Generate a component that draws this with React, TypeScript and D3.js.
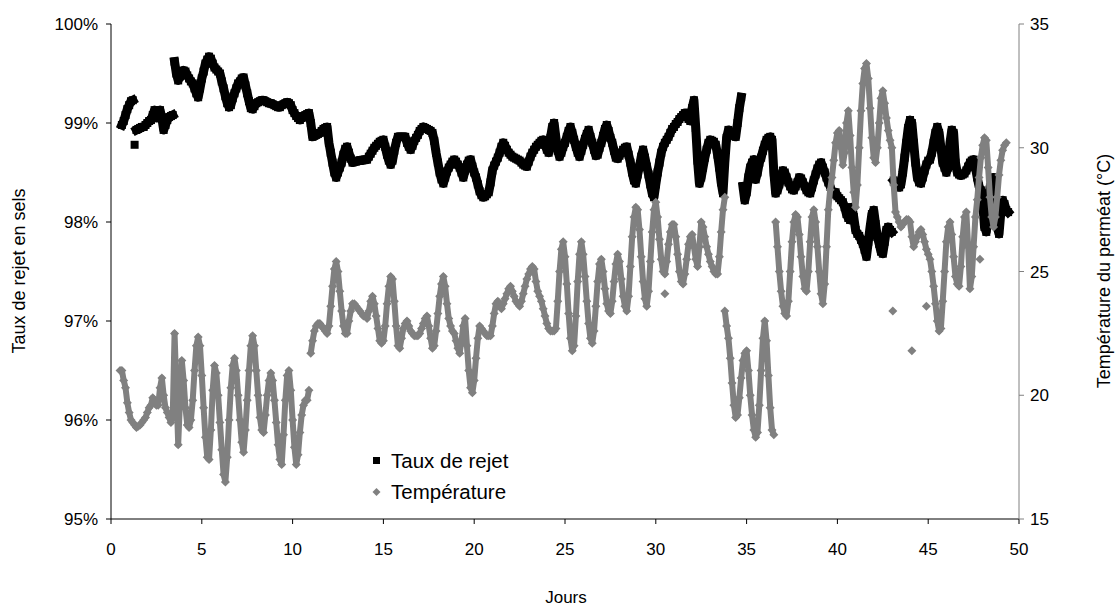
import React from 'react';
import * as d3 from 'd3';

// ---- axes / tick labels ----
const xTicks = [0, 5, 10, 15, 20, 25, 30, 35, 40, 45, 50];
const leftTicks = [95, 96, 97, 98, 99, 100];
const rightTicks = [15, 20, 25, 30, 35];

// sampling interval of the logged data (days)
const STEP = 0.1;

// ---- Taux de rejet (%) segments ----
const rejet1Start = 0.6;
const rejet1 = [98.98, 99.02, 99.08, 99.14, 99.18, 99.22, 99.23];
const rejetIsoDays = [1.3];
const rejetIsoVals = [98.78];
const rejet2Start = 1.4;
const rejet2 = [98.93, 98.94, 98.95, 98.96, 98.96, 98.98, 99.0, 99.02, 99.03, 99.08, 99.13, 99.05, 99.1, 99.13, 99.05, 98.93, 98.98, 99.03, 99.06, 99.07, 99.08];
const rejet3Start = 3.5;
const rejet3 = [
  99.62, 99.5, 99.43, 99.47, 99.5,
  99.53, 99.52, 99.48, 99.45, 99.42, 99.4, 99.35, 99.3, 99.26, 99.35,
  99.45, 99.52, 99.6, 99.64, 99.67, 99.65, 99.6, 99.56, 99.54, 99.52,
  99.5, 99.42, 99.35, 99.27, 99.2, 99.16, 99.18, 99.25, 99.3, 99.35,
  99.4, 99.42, 99.45, 99.46, 99.38, 99.3, 99.22, 99.15, 99.14, 99.17,
  99.2, 99.21, 99.22, 99.23, 99.23, 99.22, 99.21, 99.2, 99.2, 99.19,
  99.18, 99.17, 99.16, 99.16, 99.18, 99.19, 99.2, 99.21, 99.2, 99.18,
  99.13, 99.1, 99.07, 99.05, 99.03, 99.05, 99.07, 99.08, 99.09, 99.1,
  99.0, 98.86, 98.87, 98.88, 98.89, 98.9, 98.92, 98.94, 98.95, 98.96,
  98.8, 98.7, 98.6, 98.5, 98.45, 98.5, 98.55, 98.6, 98.68, 98.74,
  98.76, 98.7, 98.64, 98.6, 98.61, 98.61, 98.62, 98.62, 98.62, 98.63,
  98.63, 98.63, 98.66, 98.69, 98.72, 98.75, 98.77, 98.79, 98.81, 98.82,
  98.83, 98.76, 98.68, 98.62, 98.58, 98.62, 98.72, 98.8, 98.86, 98.86,
  98.86, 98.86, 98.86, 98.8, 98.76, 98.73, 98.77, 98.82, 98.85, 98.88,
  98.92, 98.94, 98.96, 98.95, 98.94, 98.93, 98.92, 98.9, 98.82, 98.7,
  98.6, 98.5, 98.43, 98.39, 98.45, 98.51, 98.55, 98.58, 98.61, 98.63,
  98.61, 98.58, 98.55, 98.5, 98.45, 98.52, 98.58, 98.62, 98.63, 98.56,
  98.5, 98.45, 98.38, 98.31, 98.27, 98.25, 98.26, 98.28, 98.3, 98.4,
  98.52, 98.57, 98.61, 98.65, 98.7, 98.76, 98.8, 98.77, 98.73, 98.7,
  98.68, 98.66, 98.65, 98.64, 98.63, 98.62, 98.6, 98.58, 98.57, 98.56,
  98.61, 98.66, 98.7, 98.73, 98.76, 98.78, 98.8, 98.82, 98.83, 98.78,
  98.73, 98.7, 98.85, 98.96, 99.0, 98.85, 98.72, 98.66, 98.7, 98.76,
  98.8, 98.86, 98.92, 98.96, 98.9, 98.83, 98.76, 98.7, 98.66, 98.72,
  98.78, 98.84, 98.89, 98.93, 98.86, 98.8, 98.73, 98.67, 98.68, 98.75,
  98.8, 98.87, 98.94, 98.98, 98.92, 98.85, 98.8, 98.72, 98.65, 98.64,
  98.67, 98.7, 98.73, 98.75, 98.76, 98.68, 98.6, 98.5, 98.42, 98.39,
  98.48, 98.56, 98.66, 98.73, 98.65, 98.56, 98.48, 98.38, 98.29, 98.25,
  98.38, 98.5, 98.6, 98.7, 98.76, 98.8, 98.83, 98.86, 98.9, 98.94,
  98.96, 98.99, 99.01, 99.04, 99.06, 99.08, 99.1, 99.1, 99.04, 99.02,
  99.15, 99.23, 98.95, 98.62, 98.39, 98.45, 98.55, 98.65, 98.73, 98.8,
  98.83, 98.82, 98.81, 98.78, 98.68, 98.55, 98.4, 98.29, 98.6, 98.85,
  98.93, 98.91, 98.89, 98.87, 98.86, 99.0, 99.15, 99.26,
];
const rejet4Start = 34.8;
const rejet4 = [
  98.36, 98.22,
  98.3, 98.45, 98.55, 98.6, 98.63, 98.43, 98.5, 98.6, 98.65, 98.72,
  98.78, 98.83, 98.85, 98.86, 98.83, 98.5, 98.29, 98.32, 98.38, 98.45,
  98.52, 98.5, 98.45, 98.4, 98.36, 98.33, 98.32, 98.36, 98.4, 98.45,
  98.44, 98.4, 98.36, 98.32, 98.3, 98.29, 98.35, 98.42, 98.48, 98.54,
  98.58, 98.6, 98.55, 98.5, 98.45, 98.4, 98.36, 98.3, 98.28, 98.3,
  98.26, 98.24, 98.22, 98.2, 98.15, 98.08, 98.04, 98.02, 98.15, 98.05,
  97.92, 97.88, 97.86, 97.82, 97.78, 97.72, 97.65, 97.8, 97.95, 98.08,
  98.12, 97.98, 97.85, 97.78, 97.7, 97.68, 97.8, 97.92, 97.95, 97.92,
  97.9,
];
const rejet5Start = 43.1;
const rejet5 = [
  98.42, 98.4, 98.37, 98.35, 98.38, 98.5, 98.65, 98.8, 98.95,
  99.03, 99.0, 98.8, 98.6, 98.45, 98.4, 98.39, 98.45, 98.52, 98.58,
  98.62, 98.63, 98.7, 98.8, 98.9, 98.96, 98.9, 98.75, 98.6, 98.55,
  98.5, 98.55, 98.8, 98.93, 98.9, 98.6, 98.5, 98.48, 98.47, 98.48,
  98.49, 98.52, 98.56, 98.6, 98.62, 98.63, 98.55, 98.45, 98.36, 98.32,
  98.2, 97.95, 97.9, 98.1, 98.35, 98.4, 98.45, 98.2, 97.95, 97.88,
  98.1, 98.22, 98.18, 98.12, 98.1,
];

// ---- Température (°C) segments ----
const temp1Start = 0.5;
const temp1 = [
  21.0, 21.0, 20.6, 20.3, 19.7,
  19.3, 19.0, 18.9, 18.8, 18.7, 18.75, 18.8, 18.9, 19.0, 19.1,
  19.3, 19.5, 19.6, 19.9, 19.8, 19.6, 19.6, 20.3, 20.7, 20.0,
  19.5, 19.3, 19.1, 18.9, 19.2, 22.5, 20.3, 18.0, 19.8, 21.4,
  20.6, 19.5, 18.8, 18.7, 19.0, 19.8, 21.0, 22.0, 22.35, 22.0,
  20.8, 19.5, 18.3, 17.5, 17.4, 18.6, 20.2, 21.2, 20.9, 20.0,
  18.9, 17.8, 16.8, 16.5, 17.5, 19.0, 20.3, 21.2, 21.5, 21.0,
  20.0, 19.0, 18.1, 17.7, 18.6, 19.8, 21.0, 22.0, 22.4, 22.0,
  21.0, 20.0, 19.1, 18.6, 18.5, 19.2, 20.0, 20.6, 20.9, 20.6,
  19.8, 18.9, 18.0, 17.4, 17.2, 18.4, 19.8, 20.8, 21.0, 20.2,
  19.0, 17.9, 17.2, 17.6, 18.5, 19.2, 19.6, 19.8, 19.8, 20.2,
];
const temp2Start = 11.0;
const temp2 = [
  21.7, 22.2, 22.6, 22.8, 22.9, 22.9, 22.8, 22.7, 22.6, 22.5,
  22.8, 23.6, 24.4, 25.1, 25.4, 25.0, 24.2, 23.4, 22.8, 22.5,
  22.5, 23.0, 23.4, 23.7, 23.7, 23.6, 23.5, 23.4, 23.3, 23.2,
  23.2, 23.1, 23.4, 23.8, 24.0, 23.7, 23.2, 22.7, 22.2, 22.1,
  22.2, 22.8, 23.7, 24.4, 24.8, 24.7, 23.8, 22.8, 22.0, 21.9,
  22.3, 22.7, 22.9, 23.0, 22.8, 22.6, 22.5, 22.4, 22.4, 22.4,
  22.5, 22.7, 22.9, 23.1, 23.2, 22.8, 22.3, 21.9, 22.0, 22.6,
  23.3, 24.0, 24.5, 24.8, 24.4, 23.7, 23.1, 22.8, 22.6, 22.5,
  22.2, 21.9, 21.7, 22.2, 22.8, 23.1, 22.0, 21.0, 20.3, 20.1,
  20.6, 21.5, 22.3, 22.8, 22.7, 22.6, 22.5, 22.4, 22.4, 22.4,
  22.8, 23.3, 23.7, 23.8, 23.6, 23.5, 23.7, 23.9, 24.1, 24.3,
  24.4, 24.2, 24.0, 23.8, 23.7, 23.6, 23.8, 24.1, 24.4, 24.7,
  24.9, 25.1, 25.2, 25.1, 24.6, 24.2, 24.0, 23.8, 23.5, 23.2,
  22.9, 22.7, 22.6, 22.6, 22.6, 22.7, 23.8, 25.0, 25.9, 26.2,
  25.6, 24.5, 23.3, 22.3, 21.8, 22.0, 23.2, 24.6, 25.7, 26.2,
  25.7, 24.8, 23.8, 22.9, 22.3, 22.1, 22.6, 23.6, 24.6, 25.3,
  25.5, 25.0, 24.3, 23.7, 23.4, 23.3, 23.8, 24.6, 25.3, 25.7,
  25.4, 24.7, 24.0, 23.6, 23.4, 24.0, 25.2, 26.4, 27.2, 27.6,
  27.5, 26.7, 25.6, 24.6, 23.9, 23.6, 24.2, 25.4, 26.6, 27.5,
  27.8, 27.2, 26.3, 25.5, 25.0, 24.9, 25.4, 26.1, 26.6, 26.9,
  26.9, 26.4, 25.7, 25.0, 24.6, 24.5, 24.9, 25.5, 26.1, 26.4,
  26.5, 26.0, 25.5, 25.2, 26.0, 27.0, 26.8, 26.4, 26.0, 25.7,
  25.4, 25.2, 25.0, 24.9, 24.9, 25.6, 26.6, 27.5, 28.0,
];
const temp3Start = 33.8;
const temp3 = [
  23.4, 22.8,
  22.3, 21.5, 20.5, 19.6, 19.1, 19.2, 19.9, 20.7, 21.4, 21.7,
  21.8, 21.0, 20.0, 19.2, 18.6, 18.3, 18.5, 19.6, 21.0, 22.3,
  23.0, 22.2, 20.8, 19.5, 18.6, 18.4,
];
const temp4Start = 36.6;
const temp4 = [
  27.0, 26.0, 25.0, 24.2,
  23.6, 23.3, 23.2, 23.8, 25.0, 26.2, 27.0, 27.3, 27.2, 26.5,
  25.6, 24.8, 24.3, 24.2, 25.0, 26.2, 27.2, 27.5, 27.0, 26.0,
  25.0, 24.1, 23.7, 24.5, 26.0, 27.5, 28.3, 28.8, 29.5, 30.2,
  30.6, 30.7, 30.0, 29.3, 29.8, 31.0, 31.5, 30.5, 29.2, 28.2,
  27.6, 28.5, 30.0, 31.5, 32.6, 33.2, 33.4, 32.8, 31.6, 30.4,
  29.6, 29.4, 30.0, 31.0, 32.0, 32.3, 31.8, 31.2, 30.7, 30.3,
  30.0, 28.5, 27.4, 27.2, 27.0, 26.8, 26.9, 27.0, 27.1, 27.1,
  27.0, 26.4, 26.0, 26.2, 26.4, 26.6, 26.7, 26.5, 26.2, 25.9,
  25.7, 25.5, 25.0, 24.4, 23.7, 23.0, 22.6, 22.7, 23.8, 25.0,
  26.2, 26.8, 27.0, 26.5, 25.6, 24.8, 24.5, 24.4, 25.2, 26.4,
  27.2, 27.4, 26.0, 24.3, 24.8, 26.0, 27.2, 27.9, 28.8, 29.6,
  30.1, 30.4, 30.3, 29.2, 28.0, 27.2, 26.8, 27.2, 28.0, 28.9,
  29.5, 29.9, 30.1, 30.2,
];
const tempIsoDays = [30.5, 43.05, 44.1, 44.9, 47.85];
const tempIsoVals = [24.1, 23.4, 21.8, 23.6, 25.5];

type P = { d: number; v: number };
const seg = (start: number, vals: number[]): P[] =>
  vals.map((v, i) => ({ d: start + i * STEP, v }));
const iso = (days: number[], vals: number[]): P[] => days.map((d, i) => ({ d, v: vals[i] }));

const rejetSegs = [seg(rejet1Start, rejet1), seg(rejet2Start, rejet2), seg(rejet3Start, rejet3), seg(rejet4Start, rejet4), seg(rejet5Start, rejet5)];
const rejetIso = iso(rejetIsoDays, rejetIsoVals);
const tempSegs = [seg(temp1Start, temp1), seg(temp2Start, temp2), seg(temp3Start, temp3), seg(temp4Start, temp4)];
const tempIso = iso(tempIsoDays, tempIsoVals);

const FONT = '"Liberation Sans", Arial, sans-serif';
const GRAY = '#808080';

export default function App() {
  const x = d3.scaleLinear().domain([0, 50]).range([111, 1019]);
  const yL = d3.scaleLinear().domain([95, 100]).range([519, 24]);
  const yR = d3.scaleLinear().domain([15, 35]).range([519, 24]);
  const lineL = d3.line<P>().x((p) => x(p.d)).y((p) => yL(p.v));
  const lineR = d3.line<P>().x((p) => x(p.d)).y((p) => yR(p.v));
  const diamond = (cx: number, cy: number, r = 4.5) =>
    `M${cx},${cy - r}L${cx + r},${cy}L${cx},${cy + r}L${cx - r},${cy}Z`;

  const allRejet = [...rejetSegs.flat(), ...rejetIso];
  const allTemp = [...tempSegs.flat(), ...tempIso];

  return (
    <svg width={1119} height={606} style={{ position: 'absolute', left: 0, top: 0, background: '#fff' }} fontFamily={FONT}>
      <rect x={0} y={0} width={1119} height={606} fill="#fff" />
      {/* Taux de rejet */}
      <g>
        {rejetSegs.map((s, i) => (
          <path key={i} d={lineL(s) || ''} fill="none" stroke="#000" strokeWidth={9} strokeLinejoin="round" strokeLinecap="square" />
        ))}
        {allRejet.map((p, i) => (
          <rect key={i} x={x(p.d) - 4} y={yL(p.v) - 4} width={8} height={8} fill="#000" />
        ))}
      </g>
      {/* Température */}
      <g>
        {tempSegs.map((s, i) => (
          <path key={i} d={lineR(s) || ''} fill="none" stroke={GRAY} strokeWidth={6} strokeLinejoin="round" />
        ))}
        {allTemp.map((p, i) => (
          <path key={i} d={diamond(x(p.d), yR(p.v))} fill={GRAY} />
        ))}
      </g>

      {/* left axis */}
      <line x1={111} y1={24} x2={111} y2={519} stroke="#000" />
      {leftTicks.map((t) => (
        <g key={t}>
          <line x1={106} x2={111} y1={yL(t)} y2={yL(t)} stroke="#000" />
          <text x={98} y={yL(t) + 6} textAnchor="end" fontSize={17} fill="#000">{t}%</text>
        </g>
      ))}
      {/* bottom axis */}
      <line x1={111} y1={519} x2={1019} y2={519} stroke="#000" />
      {xTicks.map((t) => (
        <g key={t}>
          <line x1={x(t)} x2={x(t)} y1={519} y2={524} stroke="#000" />
          <text x={x(t)} y={555} textAnchor="middle" fontSize={17} fill="#000">{t}</text>
        </g>
      ))}
      {/* right axis */}
      <line x1={1019} y1={24} x2={1019} y2={519} stroke={GRAY} />
      {rightTicks.map((t) => (
        <g key={t}>
          <line x1={1019} x2={1024} y1={yR(t)} y2={yR(t)} stroke={GRAY} />
          <text x={1030} y={yR(t) + 6} textAnchor="start" fontSize={17} fill="#000">{t}</text>
        </g>
      ))}

      {/* axis titles */}
      <text transform="translate(25,271) rotate(-90)" textAnchor="middle" fontSize={18} fill="#000">Taux de rejet en sels</text>
      <text transform="translate(1110,271) rotate(-90)" textAnchor="middle" fontSize={18} fill="#000">Température du perméat (°C)</text>
      <text x={566} y={603} textAnchor="middle" fontSize={17} fill="#000">Jours</text>

      {/* legend */}
      <rect x={373} y={457} width={7} height={7} fill="#000" />
      <text x={391} y={468} fontSize={20.5} fill="#000">Taux de rejet</text>
      <path d={diamond(376.5, 492, 4)} fill={GRAY} />
      <text x={391} y={499} fontSize={20.5} fill="#000">Température</text>
    </svg>
  );
}
